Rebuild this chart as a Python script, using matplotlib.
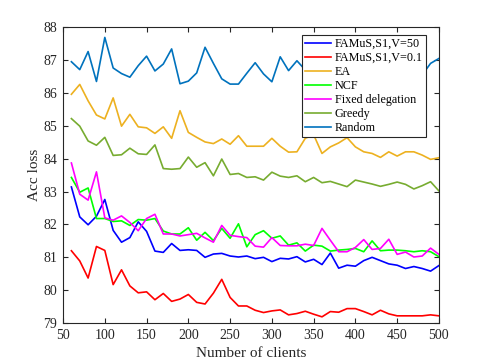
import numpy as np
import matplotlib
matplotlib.use('Agg')
import matplotlib.pyplot as plt

plt.rcParams['font.family'] = ['Liberation Serif', 'DejaVu Serif']
plt.rcParams['mathtext.fontset'] = 'stix'

clients = np.arange(60, 501, 10)

famus_v50 = [83.14, 82.23, 81.99, 82.25, 82.76, 81.82, 81.46, 81.60, 82.08, 81.79,
             81.19, 81.15, 81.42, 81.21, 81.23, 81.21, 81.00, 81.10, 81.12, 81.04,
             81.01, 81.04, 80.96, 81.00, 80.87, 80.97, 80.95, 81.02, 80.86, 80.94,
             80.78, 81.13, 80.67, 80.76, 80.73, 80.90, 81.00, 80.90, 80.80, 80.76,
             80.66, 80.72, 80.66, 80.58, 80.75]
famus_v01 = [81.20, 80.89, 80.37, 81.33, 81.21, 80.17, 80.62, 80.13, 79.92, 79.95,
             79.71, 79.90, 79.66, 79.73, 79.87, 79.63, 79.58, 79.91, 80.33, 79.78,
             79.52, 79.52, 79.39, 79.32, 79.37, 79.40, 79.25, 79.29, 79.36, 79.27,
             79.19, 79.35, 79.33, 79.44, 79.44, 79.35, 79.25, 79.39, 79.28, 79.22,
             79.22, 79.22, 79.22, 79.25, 79.22]
ea = [85.96, 86.26, 85.76, 85.33, 85.21, 85.85, 84.99, 85.35, 84.97, 84.94,
      84.77, 84.97, 84.62, 85.46, 84.80, 84.65, 84.51, 84.46, 84.60, 84.44,
      84.70, 84.38, 84.38, 84.38, 84.62, 84.38, 84.20, 84.21, 84.62, 84.73,
      84.16, 84.36, 84.48, 84.64, 84.36, 84.21, 84.16, 84.04, 84.21, 84.08,
      84.21, 84.21, 84.11, 83.98, 84.03]
ncf = [83.43, 82.98, 83.11, 82.18, 82.18, 82.09, 82.11, 81.97, 82.15, 82.13,
       82.18, 81.80, 81.71, 81.71, 81.90, 81.52, 81.76, 81.51, 81.88, 81.58,
       82.02, 81.32, 81.69, 81.81, 81.58, 81.65, 81.37, 81.44, 81.19, 81.37,
       81.34, 81.19, 81.22, 81.24, 81.27, 81.17, 81.50, 81.20, 81.22, 81.22,
       81.20, 81.17, 81.20, 81.17, 81.02]
fixed = [83.87, 82.92, 82.74, 83.60, 82.20, 82.13, 82.26, 82.06, 81.81, 82.18,
         82.31, 81.71, 81.71, 81.65, 81.69, 81.73, 81.59, 81.46, 81.97, 81.67,
         81.63, 81.60, 81.34, 81.31, 81.60, 81.36, 81.35, 81.35, 81.40, 81.36,
         81.88, 81.52, 81.17, 81.17, 81.30, 81.54, 81.24, 81.27, 81.55, 81.09,
         81.16, 81.01, 81.04, 81.28, 81.09]
greedy = [85.22, 84.99, 84.54, 84.41, 84.65, 84.10, 84.12, 84.32, 84.15, 84.13,
          84.42, 83.70, 83.68, 83.70, 84.05, 83.74, 83.88, 83.48, 83.99, 83.52,
          83.55, 83.43, 83.45, 83.35, 83.59, 83.47, 83.43, 83.48, 83.30, 83.43,
          83.27, 83.31, 83.23, 83.15, 83.35, 83.29, 83.23, 83.16, 83.22, 83.29,
          83.22, 83.08, 83.18, 83.30, 83.02]
random_sel = [86.95, 86.71, 87.26, 86.35, 87.69, 86.76, 86.59, 86.48, 86.83, 87.12,
              86.67, 86.88, 87.34, 86.28, 86.36, 86.61, 87.39, 86.90, 86.43, 86.27,
              86.27, 86.60, 86.92, 86.58, 86.34, 87.10, 86.68, 86.98, 86.70, 86.90,
              86.50, 86.80, 86.60, 86.90, 86.50, 86.70, 86.80, 86.40, 86.70, 86.90,
              86.60, 86.80, 86.55, 86.90, 87.05]

series = [
    ('FAMuS,S1,V=50', famus_v50, '#0000FF'),
    ('FAMuS,S1,V=0.1', famus_v01, '#FF0000'),
    ('EA', ea, '#EDB120'),
    ('NCF', ncf, '#00FF00'),
    ('Fixed delegation', fixed, '#FF00FF'),
    ('Greedy', greedy, '#77AC30'),
    ('Random', random_sel, '#0072BD'),
]

fig = plt.figure(figsize=(4.85, 3.63), dpi=100)
ax = fig.add_axes([0.13, 0.11, 0.775, 0.815])

for name, vals, col in series:
    ax.plot(clients, vals, color=col, linewidth=1.2, label=name)

ax.set_xlim(50, 500)
ax.set_ylim(79, 88)
ax.set_xticks(np.arange(50, 501, 50))
ax.set_yticks(np.arange(79, 89, 1))
ax.tick_params(direction='in', length=3.5, width=0.8, top=True, right=True,
               labelsize=10, colors='#262626', pad=4)
for sp in ax.spines.values():
    sp.set_color('#262626')
    sp.set_linewidth(0.8)

ax.set_xlabel('Number of clients', fontsize=11, color='#262626', labelpad=4)
ax.set_ylabel('Acc loss', fontsize=11, color='#262626', labelpad=2)

leg = ax.legend(loc='upper right', bbox_to_anchor=(0.965, 0.973), fontsize=8.7,
                frameon=True, fancybox=False, framealpha=1, edgecolor='#262626',
                borderpad=0.25, labelspacing=0.16, handlelength=2.2,
                handletextpad=0.3, borderaxespad=0)
leg.get_frame().set_linewidth(0.8)

fig.savefig('out.png', dpi=100)
